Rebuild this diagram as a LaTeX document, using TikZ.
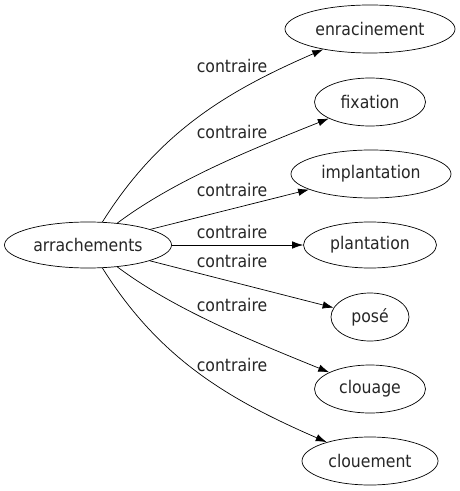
\documentclass[tikz,border=0pt]{standalone}
\usepackage{fontspec}
\setmainfont{DejaVu Sans Condensed}
\usetikzlibrary{shapes.geometric,arrows.meta}
\begin{document}
\begin{tikzpicture}[x=1bp,y=-1bp,
  word/.style={ellipse,draw,line width=0.7bp,inner sep=0pt,font=\fontsize{17.5}{20}\selectfont,text=black!85},
  rel/.style={font=\fontsize{17.5}{20}\selectfont,text=black!85,inner sep=0pt},
  edge/.style={line width=0.7bp,-{Latex[length=11bp,width=7.5bp]}}]
\useasboundingbox (0,0) rectangle (460,491);
\node[word,minimum width=167bp,minimum height=46bp] (a) at (88,245) {arrachements};
\node[word,minimum width=170bp,minimum height=48bp] (e1) at (370,29) {enracinement};
\node[word,minimum width=111bp,minimum height=48bp] (e2) at (370,102) {fixation};
\node[word,minimum width=160bp,minimum height=48bp] (e3) at (371,174) {implantation};
\node[word,minimum width=133bp,minimum height=46bp] (e4) at (370,245) {plantation};
\node[word,minimum width=78bp,minimum height=48bp] (e5) at (370,317) {posé};
\node[word,minimum width=111bp,minimum height=48bp] (e6) at (370,389) {clouage};
\node[word,minimum width=136bp,minimum height=48bp] (e7) at (370,461) {clouement};
\draw[edge] (a) .. controls (160,130) and (230,90) .. (e1);
\draw[edge] (a) .. controls (175,180) and (250,150) .. (e2);
\draw[edge] (a) -- (e3);
\draw[edge] (a) -- (e4);
\draw[edge] (a) -- (e5);
\draw[edge] (a) .. controls (175,310) and (250,340) .. (e6);
\draw[edge] (a) .. controls (160,360) and (230,400) .. (e7);
\node[rel] (l1) at (232,66) {contraire};
\node[rel] (l2) at (232,132) {contraire};
\node[rel] (l3) at (232,190) {contraire};
\node[rel] (l4) at (232,232) {contraire};
\node[rel] (l5) at (232,261) {contraire};
\node[rel] (l6) at (232,305) {contraire};
\node[rel] (l7) at (232,365) {contraire};
\end{tikzpicture}
\end{document}
